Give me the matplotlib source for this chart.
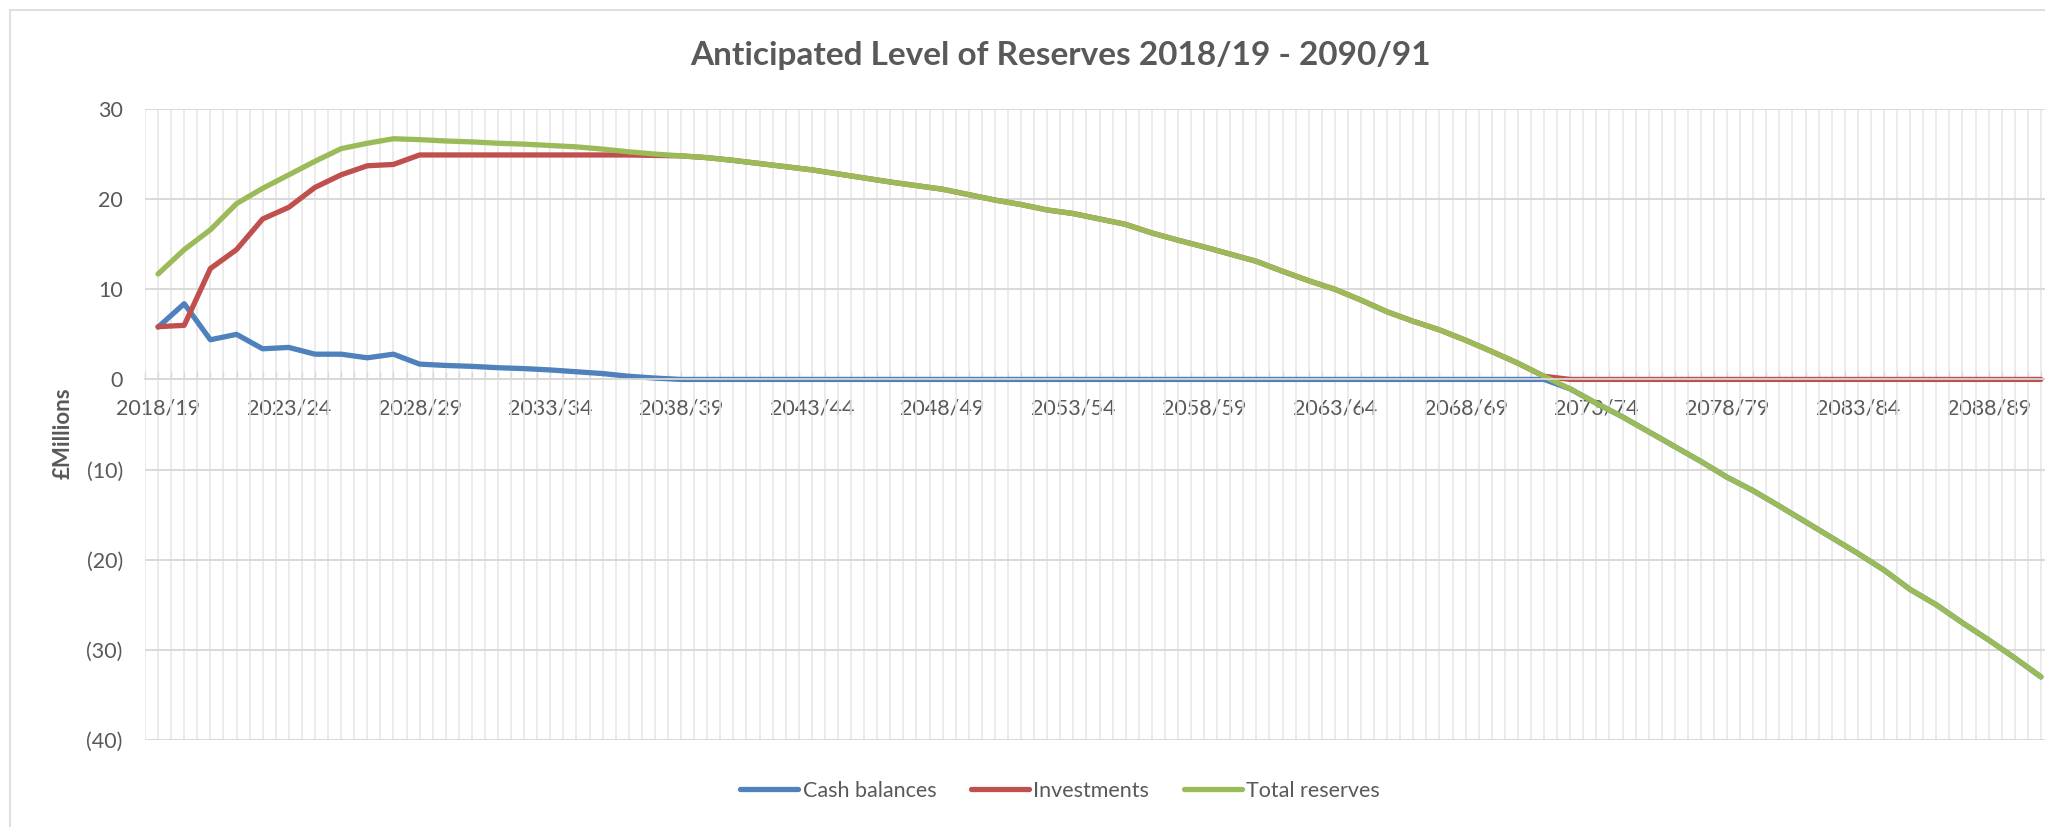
import matplotlib
matplotlib.use('Agg')
import matplotlib.pyplot as plt
from matplotlib.ticker import MultipleLocator, FuncFormatter
from matplotlib.patches import Rectangle

# financial years 2018/19 .. 2090/91
years = [f"{y}/{(y + 1) % 100:02d}" for y in range(2018, 2091)]

# £ millions
cash = [5.8, 8.4, 4.4, 5.0, 3.4, 3.55, 2.8, 2.8, 2.4, 2.8,
        1.7, 1.55, 1.45, 1.3, 1.2, 1.05, 0.85, 0.65, 0.35, 0.15,
        0, 0, 0, 0, 0, 0, 0, 0, 0, 0,
        0, 0, 0, 0, 0, 0, 0, 0, 0, 0,
        0, 0, 0, 0, 0, 0, 0, 0, 0, 0,
        0, 0, 0, 0, -1.05, -2.65, -4.15, -5.8, -7.45, -9.1,
        -10.85, -12.35, -14.05, -15.8, -17.55, -19.3, -21.15, -23.3, -25.0, -27.0,
        -28.9, -30.9, -33.0]

investments = [5.85, 6.0, 12.3, 14.4, 17.8, 19.1, 21.3, 22.7, 23.7, 23.85,
               24.9, 24.9, 24.9, 24.9, 24.9, 24.9, 24.9, 24.9, 24.9, 24.85,
               24.8, 24.6, 24.3, 23.95, 23.6, 23.25, 22.8, 22.35, 21.9, 21.5,
               21.1, 20.5, 19.9, 19.4, 18.8, 18.4, 17.8, 17.2, 16.25, 15.45,
               14.7, 13.9, 13.1, 12.0, 10.95, 10.0, 8.8, 7.5, 6.45, 5.5,
               4.35, 3.1, 1.8, 0.35, 0, 0, 0, 0, 0, 0,
               0, 0, 0, 0, 0, 0, 0, 0, 0, 0,
               0, 0, 0]

total = [11.7, 14.4, 16.6, 19.5, 21.2, 22.7, 24.2, 25.6, 26.2, 26.7,
         26.6, 26.45, 26.35, 26.2, 26.1, 25.95, 25.8, 25.55, 25.25, 25.0,
         24.8, 24.6, 24.3, 23.95, 23.6, 23.25, 22.8, 22.35, 21.9, 21.5,
         21.1, 20.5, 19.9, 19.4, 18.8, 18.4, 17.8, 17.2, 16.25, 15.45,
         14.7, 13.9, 13.1, 12.0, 10.95, 10.0, 8.8, 7.5, 6.45, 5.5,
         4.35, 3.1, 1.8, 0.35, -1.05, -2.65, -4.15, -5.8, -7.45, -9.1,
         -10.85, -12.35, -14.05, -15.8, -17.55, -19.3, -21.15, -23.3, -25.0, -27.0,
         -28.9, -30.9, -33.0]

plt.rcParams['font.family'] = ['Lato', 'DejaVu Sans']
text_col = '#595959'

W, H = 2045, 827
fig = plt.figure(figsize=(W / 100, H / 100), dpi=100)
ax = fig.add_axes([145 / W, 1 - 740 / H, (2054 - 145) / W, (740 - 109) / H])

x = range(len(years))
style = dict(lw=3.8, solid_capstyle='round', solid_joinstyle='round')
ax.plot(x, cash, color='#4f81bd', label='Cash balances', **style)
ax.plot(x, investments, color='#c0504d', label='Investments', **style)
ax.plot(x, total, color='#9bbb59', label='Total reserves', **style)

ax.set_xlim(-0.5, len(years) - 0.5)
ax.set_ylim(-40, 30)
ax.yaxis.set_major_locator(MultipleLocator(10))
ax.yaxis.set_major_formatter(FuncFormatter(
    lambda v, p: f"({abs(v):.0f})" if v < 0 else f"{v:.0f}"))
ax.set_xticks(range(0, len(years), 5))
ax.set_xticklabels(years[::5])
ax.xaxis.set_minor_locator(MultipleLocator(0.5))

# category axis sits on the zero line
ax.spines['bottom'].set_position(('data', 0))
ax.spines['bottom'].set_color('#d9d9d9')
ax.spines['bottom'].set_linewidth(1.3)
for s in ['top', 'right', 'left']:
    ax.spines[s].set_visible(False)

ax.set_axisbelow(True)
ax.grid(axis='x', which='both', color='#e8e8e8', lw=1.2)
ax.grid(axis='y', which='major', color='#d9d9d9', lw=1.4)
ax.tick_params(axis='x', which='both', direction='in', length=5,
               color='#d9d9d9', width=1)
ax.tick_params(axis='x', which='major', pad=14, labelsize=15.5,
               labelcolor=text_col)
ax.tick_params(axis='y', length=0, pad=16, labelsize=15.5, labelcolor=text_col)

fig.text(1060 / W, 1 - 55 / H, 'Anticipated Level of Reserves 2018/19 - 2090/91',
         ha='center', va='center', fontsize=24, fontweight='bold', color=text_col)
fig.text(63 / W, 1 - 433 / H, '£Millions', rotation=90, ha='center',
         va='center', fontsize=16, fontweight='bold', color=text_col)

fig.legend(loc='center', bbox_to_anchor=(1060 / W, 1 - 791 / H), ncol=3,
           frameon=False, fontsize=15.5, handlelength=2.7, handletextpad=0.2,
           columnspacing=1.6, labelcolor=text_col)

# chart area outline
fig.add_artist(Rectangle((10 / W, -0.1), 1.2, 1.1 - 10 / H,
                         transform=fig.transFigure, fill=False,
                         ec='#d9d9d9', lw=1.2))

fig.savefig('out.png', dpi=100)
